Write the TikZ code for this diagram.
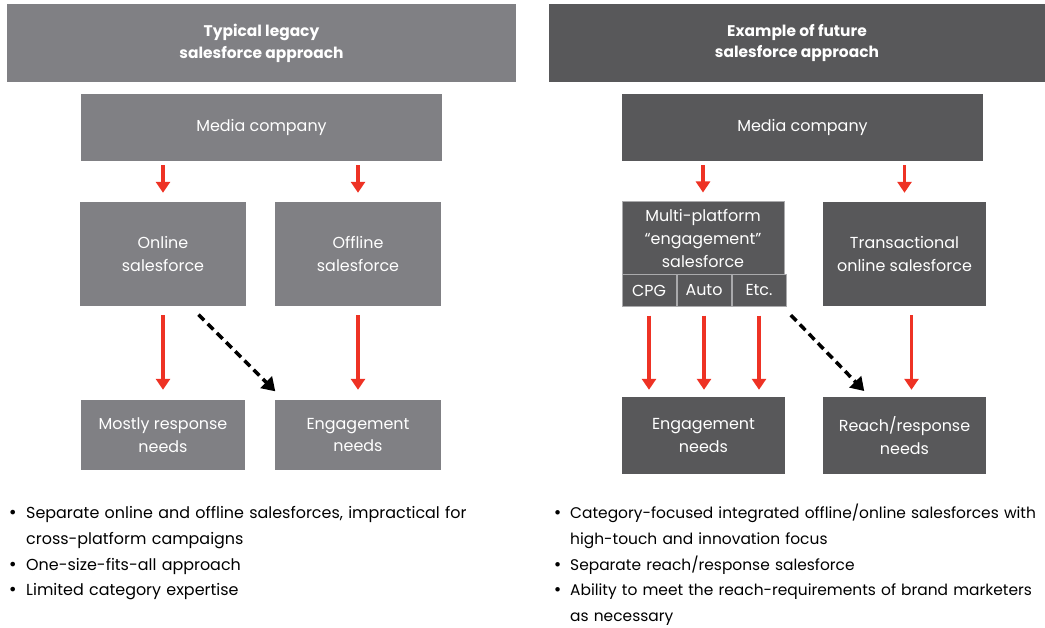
\documentclass[tikz,border=0pt]{standalone}
\usepackage{fontspec}
\setmainfont{Poppins}
\newfontfamily\dotfont{DejaVu Sans}
\usetikzlibrary{positioning,arrows.meta}
\definecolor{legacygray}{RGB}{128,128,132}
\definecolor{futuregray}{RGB}{88,88,90}
\definecolor{arrowred}{RGB}{238,50,36}
\definecolor{celledge}{RGB}{170,170,172}
\tikzset{
  box/.style={rectangle,inner sep=0pt,text=white,align=center,font=\fontsize{16}{23}\selectfont},
  oldbox/.style={box,fill=legacygray},
  newbox/.style={box,fill=futuregray},
  head/.style={box,font=\bfseries\fontsize{15.5}{22}\selectfont,minimum height=78bp},
  cell/.style={newbox,draw=celledge,line width=1bp,minimum width=54bp,minimum height=31bp},
  redarr/.style={draw=arrowred,line width=3.5bp,-{Triangle[length=11bp,width=14bp]}},
  dasharr/.style={draw=black,line width=3.5bp,dash pattern=on 8bp off 5bp,-{Triangle[length=13bp,width=16bp]}},
  bullets/.style={anchor=north west,align=left,text width=#1,inner sep=0pt,font=\fontsize{16}{25.7}\selectfont}
}
\newlength{\bulletgap}
\setlength{\bulletgap}{18bp}
\newcommand{\bitem}[1]{\par\noindent\makebox[\bulletgap][l]{\dotfont\textbullet}#1}
\newcommand{\bcont}[1]{\par\noindent\hspace*{\bulletgap}#1}
\begin{document}
\begin{tikzpicture}[x=1bp,y=-1bp]
\useasboundingbox (0,0) rectangle (1045,628);
% headers
\node[head,fill=legacygray,minimum width=509bp] (head1) at (261.5,43) {Typical legacy\\salesforce approach};
\node[head,fill=futuregray,minimum width=496bp] (head2) at (797,43) {Example of future\\salesforce approach};
% legacy side
\node[oldbox,minimum width=361bp,minimum height=67bp] (media1) at (261.5,127.5) {Media company};
\node[oldbox,minimum width=166bp,minimum height=104bp] (online) at (163,254) {Online\\salesforce};
\node[oldbox,minimum width=166bp,minimum height=104bp] (offline) at (358,254) {Offline\\salesforce};
\node[oldbox,minimum width=164bp,minimum height=70bp] (mostly) at (163,435) {Mostly response\\needs};
\node[oldbox,minimum width=166bp,minimum height=70bp] (eng1) at (358,435) {Engagement\\needs};
% future side
\node[newbox,minimum width=361bp,minimum height=67bp] (media2) at (802.5,127.5) {Media company};
\node[newbox,draw=celledge,line width=1bp,minimum width=162bp,minimum height=73bp] (multi) at (703,238.5) {Multi-platform\\``engagement''\\salesforce};
\node[cell] (cpg) at (649,290.5) {CPG};
\node[cell,right=0pt of cpg] (cauto) {Auto};
\node[cell,right=0pt of cauto] (cetc) {Etc.};
\node[newbox,minimum width=163bp,minimum height=104bp] (trans) at (904.5,254) {Transactional\\online salesforce};
\node[newbox,minimum width=163bp,minimum height=77bp] (eng2) at (703.5,435.5) {Engagement\\needs};
\node[newbox,minimum width=163bp,minimum height=77bp] (reach) at (904.5,435.5) {Reach/response\\needs};
% arrows
\draw[redarr,shorten <=4bp,shorten >=9bp] (online.north |- media1.south) -- (online.north);
\draw[redarr,shorten <=4bp,shorten >=9bp] (offline.north |- media1.south) -- (offline.north);
\draw[redarr,shorten <=9bp,shorten >=10bp] (online.south) -- (mostly.north);
\draw[redarr,shorten <=9bp,shorten >=10bp] (offline.south) -- (eng1.north);
\draw[dasharr,shorten <=12bp,shorten >=12bp] ([xshift=27bp]online.south) -- ([xshift=9bp]eng1.north west);
\draw[redarr,shorten <=4bp,shorten >=9bp] (multi.north |- media2.south) -- (multi.north);
\draw[redarr,shorten <=4bp,shorten >=9bp] (trans.north |- media2.south) -- (trans.north);
\draw[redarr,shorten <=9bp,shorten >=7bp] (cpg.south) -- (cpg.south |- eng2.north);
\draw[redarr,shorten <=9bp,shorten >=7bp] (cauto.south) -- (cauto.south |- eng2.north);
\draw[redarr,shorten <=9bp,shorten >=7bp] (cetc.south) -- (cetc.south |- eng2.north);
\draw[dasharr,shorten <=12bp,shorten >=8bp] ([xshift=-4bp]cetc.south east) -- ([xshift=47bp]reach.north west);
\draw[redarr,shorten <=9bp,shorten >=7bp] ([xshift=7bp]trans.south) -- ([xshift=7bp]reach.north);
% notes
\node[bullets=510bp] (notes1) at (8,493) {%
\bitem{Separate online and offline salesforces, impractical for}
\bcont{cross-platform campaigns}
\bitem{One-size-fits-all approach}
\bitem{Limited category expertise}};
\node[bullets=495bp,font=\fontsize{15.5}{25.7}\selectfont] (notes2) at (553,493) {%
\setlength{\bulletgap}{17bp}%
\bitem{Category-focused integrated offline/online salesforces with}
\bcont{high-touch and innovation focus}
\bitem{Separate reach/response salesforce}
\bitem{Ability to meet the reach-requirements of brand marketers}
\bcont{as necessary}};
\end{tikzpicture}
\end{document}
